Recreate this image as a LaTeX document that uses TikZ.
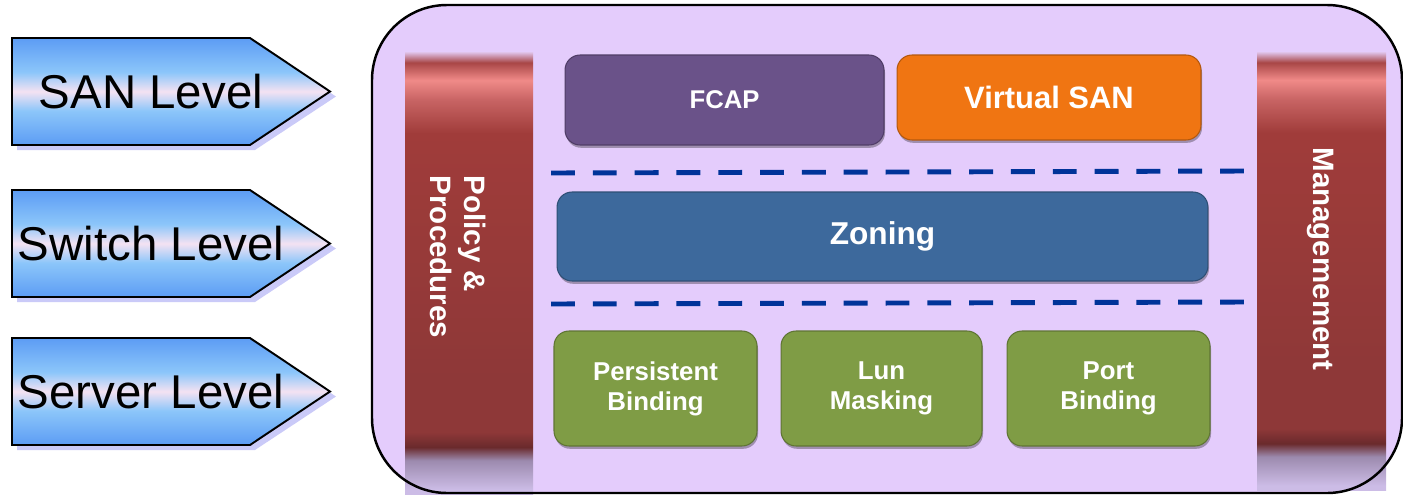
\documentclass[tikz,border=0pt]{standalone}
\usepackage{fontspec}
\setmainfont{Liberation Sans}
\usetikzlibrary{shadows}

\definecolor{framebg}{HTML}{E4CCFC}
\definecolor{levelblue}{HTML}{5C9CF4}
\definecolor{levellight}{HTML}{8CC6FA}
\definecolor{levelpink}{HTML}{F4E2F2}
\definecolor{levelshadow}{HTML}{CACAF8}
\definecolor{pillartop}{HTML}{E0C4EC}
\definecolor{pillarred}{HTML}{A03C3A}
\definecolor{pillarred2}{HTML}{A84646}
\definecolor{pillarpink}{HTML}{C86464}
\definecolor{pillarhigh}{HTML}{F08A88}
\definecolor{pillarmid}{HTML}{8E3838}
\definecolor{pillardark}{HTML}{6A2A2C}
\definecolor{pillargray}{HTML}{9C8AAE}
\definecolor{pillarfade}{HTML}{CCBCE6}
\definecolor{fcapcol}{HTML}{6A5289}
\definecolor{vsancol}{HTML}{F07512}
\definecolor{zonecol}{HTML}{3D699C}
\definecolor{bindcol}{HTML}{7F9C45}
\definecolor{sepcol}{HTML}{003399}

\pgfdeclareverticalshading{levelfill}{100bp}{color(0bp)=(levelblue); color(25bp)=(levelblue);
  color(41bp)=(levellight); color(50bp)=(levelpink); color(59bp)=(levellight);
  color(75bp)=(levelblue); color(100bp)=(levelblue)}
\pgfdeclareverticalshading{pillarfill}{100bp}{color(0bp)=(pillarfade); color(25.5bp)=(pillarfade);
  color(28.8bp)=(pillargray); color(30.3bp)=(pillardark); color(32bp)=(pillarmid);
  color(38bp)=(pillarmid); color(65.8bp)=(pillarred); color(69.6bp)=(pillarpink);
  color(71.8bp)=(pillarhigh); color(73.8bp)=(pillarred2); color(75bp)=(pillartop);
  color(100bp)=(pillartop)}

\tikzset{
  leveltext/.style={font=\fontsize{27}{32}\selectfont, inner sep=0pt},
  pillartext/.style={text=white, font=\bfseries\fontsize{16.8}{19.8}\selectfont, rotate=-90, inner sep=0pt},
  tile/.style={rounded corners=0.3cm, draw=#1!75!black, line width=0.6pt, fill=#1, text=white,
    align=center, inner sep=0pt,
    drop shadow={shadow xshift=0.6pt, shadow yshift=-1.6pt, opacity=0.3, fill=black}},
  sepline/.style={sepcol, line width=2.8pt, dash pattern=on 13.6pt off 10.2pt}
}

\begin{document}
\begin{tikzpicture}[x=0.02cm, y=-0.02cm]
	\useasboundingbox (0,0) rectangle (1403,494);
	% level arrows on the left
	\foreach \yc/\nm/\txt in {91.5/san/SAN Level, 243.5/switch/Switch Level, 391.5/server/Server Level} {
		\fill[levelshadow] (17,\yc-48.5) -- (255,\yc-48.5) -- (336,\yc+5) -- (255,\yc+58.5) -- (17,\yc+58.5) -- cycle;
		\shade[shading=levelfill, draw=black, line width=1.1pt] (12,\yc-53.5) -- (250,\yc-53.5) -- (330,\yc) -- (250,\yc+53.5) -- (12,\yc+53.5) -- cycle;
		\node[leveltext] (\nm lvl) at (151,\yc) {\txt};
	}
	% outer frame
	\fill[framebg, rounded corners=1.5cm] (372,5) rectangle (1402,493);
	\shade[shading=pillarfill] (405,52) rectangle (533,494);
	\shade[shading=pillarfill] (1257,52) rectangle (1386,490);
	\draw[line width=1.4pt, rounded corners=1.5cm] (372,5) rectangle (1402,493);
	\node[pillartext, align=left] (policy) at (458,257) {Policy \&\\Procedures};
	\node[pillartext] (mgmt) at (1321,259) {Managemement};
	% separators
	\coordinate (sepA1) at (551,173);
	\coordinate (sepA2) at (1247,171);
	\coordinate (sepB1) at (551,304);
	\coordinate (sepB2) at (1247,302);
	\draw[sepline] (sepA1) -- (sepA2);
	\draw[sepline] (sepB1) -- (sepB2);
	% SAN level
	\node[tile=fcapcol, minimum width=6.38cm, minimum height=1.8cm, font=\bfseries\fontsize{14.6}{17}\selectfont] (fcap) at (724.5,100) {FCAP};
	\node[tile=vsancol, minimum width=6.08cm, minimum height=1.7cm, font=\bfseries\fontsize{17.6}{20}\selectfont] (vsan) at (1049,97.5) {Virtual SAN};
	% switch level
	\node[tile=zonecol, minimum width=13.02cm, minimum height=1.78cm, font=\bfseries\fontsize{18}{21}\selectfont] (zoning) at (882.5,236.5) {Zoning};
	% server level
	\node[tile=bindcol, minimum width=4.06cm, minimum height=2.3cm, font=\bfseries\fontsize{14.7}{17}\selectfont] (persist) at (655.5,388.5) {Persistent\\Binding};
	\node[tile=bindcol, minimum width=4.02cm, minimum height=2.3cm, font=\bfseries\fontsize{14.7}{17}\selectfont] (lun) at (881.5,388.5) {Lun\\Masking};
	\node[tile=bindcol, minimum width=4.06cm, minimum height=2.3cm, font=\bfseries\fontsize{14.7}{17}\selectfont] (port) at (1108.5,388.5) {Port\\Binding};
\end{tikzpicture}
\end{document}
